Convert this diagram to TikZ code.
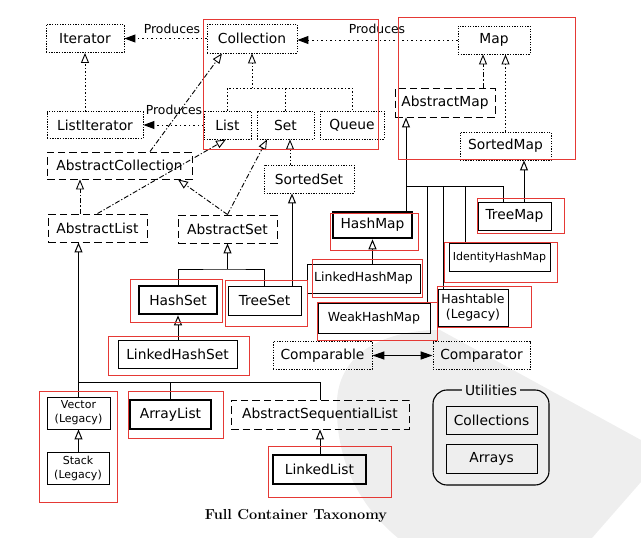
\documentclass[tikz,border=0pt]{standalone}
\usepackage{fontspec}
\newfontfamily\dv{DejaVu Sans}
\usetikzlibrary{arrows.meta}
\definecolor{annot}{HTML}{E53935}
\definecolor{wm}{HTML}{EEEEEE}
\begin{document}
\begin{tikzpicture}[x=1pt,y=-1pt,
  base/.style={draw,line width=0.9pt,inner sep=0pt,align=center,font=\dv\fontsize{13.8}{16}\selectfont},
  iface/.style={base,dash pattern=on 1.3pt off 1.3pt},
  abst/.style={base,dash pattern=on 7.5pt off 4pt},
  conc/.style={base},
  thickbox/.style={base,line width=2.6pt},
  fsmall/.style={font=\dv\fontsize{11}{14}\selectfont},
  fmid/.style={font=\dv\fontsize{12.5}{15}\selectfont},
  sz/.style 2 args={minimum width=#1,minimum height=#2},
  inh/.style={-{Triangle[open,width=8pt,length=10pt]}},
  iline/.style={line width=0.9pt,dash pattern=on 1.3pt off 2.2pt},
  aline/.style={line width=0.9pt,dash pattern=on 5pt off 2pt on 1.2pt off 2pt},
  cline/.style={line width=1pt},
  prod/.style={line width=1pt,dash pattern=on 1.3pt off 3.2pt,-{Triangle[width=8pt,length=11pt]}},
  plabel/.style={inner sep=0pt,font=\dv\fontsize{12.4}{14}\selectfont},
  redbox/.style={draw=annot,line width=1pt}
]
\useasboundingbox (0,0) rectangle (641,538);
% watermark
\fill[wm] (337,400) .. controls (340,352) and (385,330) .. (440,330) -- (641,440) -- (641,482) -- (592,538) -- (398,538) .. controls (352,500) and (335,450) .. (337,400);

% nodes
\node[iface,sz={78}{28}] (Iterator) at (85,38.5) {Iterator};
\node[iface,sz={96}{27}] (ListIterator) at (95,125) {ListIterator};
\node[iface,sz={90}{29}] (Collection) at (252,38.5) {Collection};
\node[iface,sz={47}{28}] (List) at (227.5,125) {List};
\node[iface,sz={57}{28}] (Set) at (285.5,125) {Set};
\node[iface,sz={64}{28}] (Queue) at (352,125) {Queue};
\node[iface,sz={72}{28}] (Map) at (494,40) {Map};
\node[abst,sz={100}{29}] (AbstractMap) at (445,102.5) {AbstractMap};
\node[iface,sz={91}{28}] (SortedMap) at (505.5,146) {SortedMap};
\node[abst,sz={145}{27}] (AbstractCollection) at (119.5,165.5) {AbstractCollection};
\node[abst,sz={99}{28}] (AbstractList) at (97.5,228) {AbstractList};
\node[abst,sz={99}{28}] (AbstractSet) at (227.5,229) {AbstractSet};
\node[iface,sz={90}{28}] (SortedSet) at (309,179) {SortedSet};
\node[thickbox,sz={78}{28}] (HashSet) at (178,300) {HashSet};
\node[conc,sz={73}{29}] (TreeSet) at (264.5,300.5) {TreeSet};
\node[conc,sz={119}{28}] (LinkedHashSet) at (177.5,354) {LinkedHashSet};
\node[conc,fsmall,sz={63}{32}] (Vector) at (78.5,413) {Vector\\(Legacy)};
\node[conc,fsmall,sz={62}{32}] (Stack) at (78,468) {Stack\\(Legacy)};
\node[thickbox,sz={81}{29}] (ArrayList) at (170.5,414.5) {ArrayList};
\node[abst,sz={178}{29}] (AbstractSequentialList) at (320,414.5) {AbstractSequentialList};
\node[thickbox,sz={93}{29}] (LinkedList) at (319.5,469.5) {LinkedList};
\node[iface,sz={99}{28}] (Comparable) at (322.5,355.5) {Comparable};
\node[iface,sz={97}{28}] (Comparator) at (481.5,355.5) {Comparator};
\node[conc,sz={91}{28}] (Collections) at (491.5,420) {Collections};
\node[conc,sz={91}{29}] (Arrays) at (491.5,458.5) {Arrays};
\node[thickbox,sz={79}{26}] (HashMap) at (372.5,225) {HashMap};
\node[conc,fmid,sz={113}{29}] (LinkedHashMap) at (363.5,278.5) {LinkedHashMap};
\node[conc,fmid,sz={112}{30}] (WeakHashMap) at (374,318) {WeakHashMap};
\node[conc,sz={73}{28}] (TreeMap) at (514.5,216) {TreeMap};
\node[conc,fsmall,sz={101}{28}] (IdentityHashMap) at (499.5,257) {IdentityHashMap};
\node[conc,fmid,sz={70}{37}] (Hashtable) at (473,307.5) {Hashtable\\(Legacy)};

% utilities group
\node[inner sep=3pt,font=\dv\fontsize{13.8}{16}\selectfont] (UtilTitle) at (491,390) {Utilities};
\draw[line width=1.1pt,rounded corners=14] (UtilTitle.east) -- (549,390) -- (549,485) -- (433,485) -- (433,390) -- (UtilTitle.west);

% produces
\draw[prod] (Collection.west) -- (Iterator.east);
\draw[prod] (List.west) -- (ListIterator.east);
\draw[prod] (Map.west) -- (Collection.east |- Map.west);
\node[plabel] (P1) at (172,29) {Produces};
\node[plabel] (P2) at (174,110) {Produces};
\node[plabel] (P3) at (377,29) {Produces};

% iterator
\draw[iline,inh] (ListIterator.north -| Iterator.south) -- (Iterator.south);

% collection bus
\coordinate (cbus) at (252,88);
\draw[iline,inh] (cbus) -- (Collection.south);
\draw[iline] (List.north) |- (cbus) -| (Queue.north);
\draw[iline] (Set.north) -- (Set.north |- cbus);

% abstract collection links
\draw[aline,inh] ([xshift=30.5]AbstractCollection.north) -- ([xshift=-30]Collection.south);
\draw[aline,inh] ([xshift=-17.5]AbstractList.north) -- ([xshift=-17.5]AbstractList.north |- AbstractCollection.south);
\draw[aline,inh] (AbstractList.north) -- ([xshift=-1.5]List.south);
\draw[aline,inh] (AbstractSet.north) -- ([xshift=58.5]AbstractCollection.south);
\draw[aline,inh] (AbstractSet.north) -- ([xshift=-18.5]Set.south);
\draw[iline,inh] ([xshift=-19]SortedSet.north) -- ([xshift=-19]SortedSet.north |- Set.south);
\draw[cline,inh] ([xshift=27.5]TreeSet.north) -- ([xshift=27.5]TreeSet.north |- SortedSet.south);

% set bus
\coordinate (sbus) at (227.5,269);
\draw[cline,inh] (sbus) -- (AbstractSet.south);
\draw[cline] (HashSet.north) |- (sbus) -| (TreeSet.north);
\draw[cline,inh] (LinkedHashSet.north -| HashSet.south) -- (HashSet.south);

% list bus
\coordinate (lbus) at (78.5,382);
\draw[cline,inh] (Vector.north) -- (Vector.north |- AbstractList.south);
\draw[cline] (lbus) -| (AbstractSequentialList.north);
\draw[cline] (ArrayList.north) -- (ArrayList.north |- lbus);
\draw[cline,inh] (Stack.north -| Vector.south) -- (Vector.south);
\draw[cline,inh] (LinkedList.north -| AbstractSequentialList.south) -- (AbstractSequentialList.south);

% map links
\draw[aline,inh] ([xshift=38]AbstractMap.north) -- ([xshift=38]AbstractMap.north |- Map.south);
\draw[iline,inh] (SortedMap.north) -- (SortedMap.north |- Map.south);
\coordinate (mbus) at (406,186);
\draw[cline,inh] ([xshift=33.5]HashMap.north) -- ([xshift=33.5]HashMap.north |- AbstractMap.south);
\draw[cline] (mbus) -| ([xshift=-11.5]TreeMap.north);
\draw[cline] ([xshift=53]WeakHashMap.north) -- ([xshift=53]WeakHashMap.north |- mbus);
\draw[cline] ([xshift=-30]Hashtable.north) -- ([xshift=-30]Hashtable.north |- mbus);
\draw[cline] ([xshift=-34.5]IdentityHashMap.north) -- ([xshift=-34.5]IdentityHashMap.north |- mbus);
\draw[cline,inh] (LinkedHashMap.north -| HashMap.south) -- (HashMap.south);
\draw[cline,inh] ([xshift=9.5]TreeMap.north) -- ([xshift=9.5]TreeMap.north |- SortedMap.south);

% comparable
\draw[line width=1.4pt,{Triangle[width=8pt,length=12pt]}-{Triangle[width=8pt,length=12pt]}] (Comparable.east) -- (Comparator.west);

% caption
\node[font=\fontsize{14.5}{16}\selectfont\bfseries] (Caption) at (296,516) {Full Container Taxonomy};

% red annotation boxes
\draw[redbox] (203,19) rectangle (378,149);
\draw[redbox] (398,17) rectangle (575,159);
\draw[redbox] (330,213) rectangle (418,250);
\draw[redbox] (312,259) rectangle (422,297);
\draw[redbox] (317,302) rectangle (437,340);
\draw[redbox] (477,198) rectangle (564,233);
\draw[redbox] (444,242) rectangle (557,282);
\draw[redbox] (437,286) rectangle (531,327);
\draw[redbox] (130,279) rectangle (222,322);
\draw[redbox] (225,280) rectangle (307,326);
\draw[redbox] (108,336) rectangle (249,375);
\draw[redbox] (39,391) rectangle (117,502);
\draw[redbox] (128,391) rectangle (223,438);
\draw[redbox] (268,446) rectangle (391,497);
\end{tikzpicture}
\end{document}
